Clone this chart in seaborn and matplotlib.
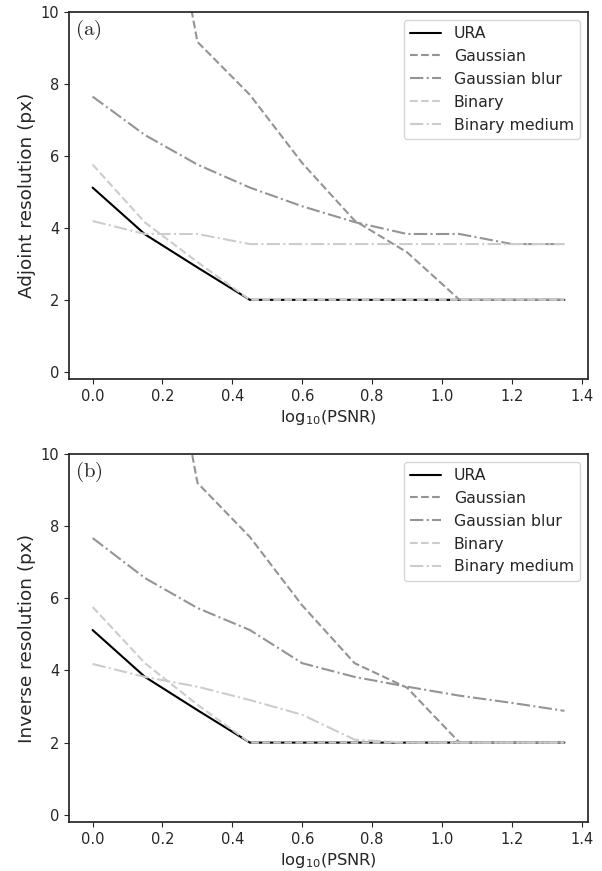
import numpy as np
import pandas as pd
import matplotlib
matplotlib.use("Agg")
import matplotlib.pyplot as plt
import seaborn as sns

log_psnr = [0.0, 0.15, 0.30, 0.45, 0.60, 0.75, 0.90, 1.05, 1.20, 1.35]

adj_ura = [5.12, 3.82, 2.90, 2.0, 2.0, 2.0, 2.0, 2.0, 2.0, 2.0]
adj_gauss = [25.0, 17.0, 9.17, 7.70, 5.80, 4.20, 3.32, 2.0, 2.0, 2.0]
adj_gblur = [7.65, 6.58, 5.76, 5.12, 4.60, 4.16, 3.83, 3.83, 3.55, 3.55]
adj_binary = [5.76, 4.15, 3.05, 2.0, 2.0, 2.0, 2.0, 2.0, 2.0, 2.0]
adj_bmed = [4.19, 3.83, 3.83, 3.55, 3.55, 3.55, 3.55, 3.55, 3.55, 3.55]

inv_ura = [5.12, 3.82, 2.90, 2.0, 2.0, 2.0, 2.0, 2.0, 2.0, 2.0]
inv_gauss = [25.0, 17.0, 9.20, 7.70, 5.80, 4.20, 3.52, 2.0, 2.0, 2.0]
inv_gblur = [7.67, 6.56, 5.73, 5.12, 4.20, 3.82, 3.55, 3.30, 3.10, 2.88]
inv_binary = [5.76, 4.20, 3.05, 2.0, 2.0, 2.0, 2.0, 2.0, 2.0, 2.0]
inv_bmed = [4.18, 3.82, 3.55, 3.18, 2.77, 2.08, 2.0, 2.0, 2.0, 2.0]

labels = ["URA", "Gaussian", "Gaussian blur", "Binary", "Binary medium"]
colors = ["black", "0.58", "0.58", "0.8", "0.8"]
styles = ["-", "--", "-.", "--", "-."]

sns.set_theme(style="ticks")
plt.rcParams["font.family"] = ["DejaVu Sans"]

fig = plt.figure(figsize=(6.02, 8.71), dpi=100)
ax1 = fig.add_axes([0.1146, 0.5649, 0.8621, 0.4213])
ax2 = fig.add_axes([0.1146, 0.0563, 0.8621, 0.4225])

panels = [
    (ax1, [adj_ura, adj_gauss, adj_gblur, adj_binary, adj_bmed], "Adjoint resolution (px)", "(a)"),
    (ax2, [inv_ura, inv_gauss, inv_gblur, inv_binary, inv_bmed], "Inverse resolution (px)", "(b)"),
]

for ax, series, ylabel, tag in panels:
    for vals, lab, c, ls in zip(series, labels, colors, styles):
        sns.lineplot(x=log_psnr, y=vals, ax=ax, color=c, linestyle=ls,
                     linewidth=1.5, label=lab)
    ax.set_xlim(-0.0675, 1.4175)
    ax.set_ylim(-0.2, 10)
    ax.set_xticks([0.0, 0.2, 0.4, 0.6, 0.8, 1.0, 1.2, 1.4])
    ax.set_yticks([0, 2, 4, 6, 8, 10])
    ax.tick_params(labelsize=10.5, colors="0.15", length=3.5, width=0.8, pad=3.5)
    ax.set_xlabel(r"log$_{10}$(PSNR)", fontsize=11.8, labelpad=3)
    ax.set_ylabel(ylabel, fontsize=13.3, labelpad=3)
    ax.text(0.012, 0.985, r"$\mathrm{" + tag + "}$", transform=ax.transAxes,
            ha="left", va="top", fontsize=15, math_fontfamily="cm")
    ax.legend(loc="upper right", fontsize=11.3, frameon=True, handlelength=2.0)

fig.savefig("out.png", dpi=100)
